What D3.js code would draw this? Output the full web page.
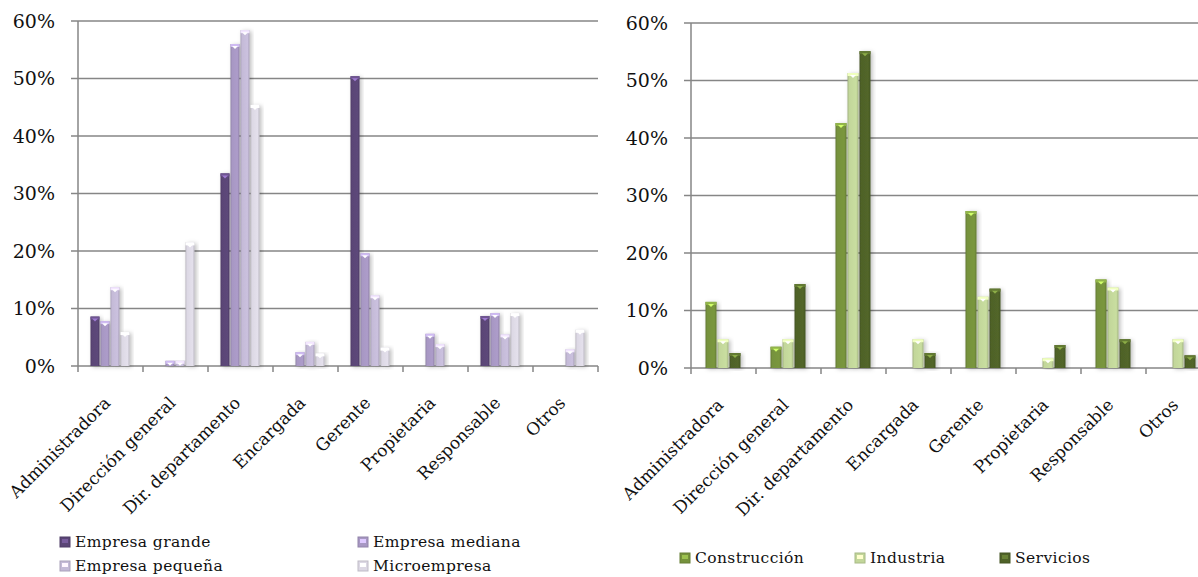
<!DOCTYPE html>
<html>
<head>
<meta charset="utf-8">
<script src="https://cdn.jsdelivr.net/npm/d3@7"></script>
<style>
  body { margin: 0; background: #fff; }
  svg { display: block; }
  svg text { font-family: "DejaVu Serif", serif; fill: #111; }
</style>
</head>
<body>
<svg id="chart" width="1198" height="577"></svg>
<script>
const categories = ['Administradora', 'Dirección general', 'Dir. departamento', 'Encargada',
  'Gerente', 'Propietaria', 'Responsable', 'Otros'];
const yTicks = [0, 0.1, 0.2, 0.3, 0.4, 0.5, 0.6];

// left chart: by company size
const sizeSeries = ['Empresa grande', 'Empresa mediana', 'Empresa pequeña', 'Microempresa'];
const sizeColors = ['#5a4576', '#a797c3', '#c4bad7', '#dcd8e4'];
const empresaGrande = [0.086, 0, 0.335, 0, 0.504, 0, 0.087, 0];
const empresaMediana = [0.078, 0.009, 0.560, 0.024, 0.196, 0.056, 0.092, 0];
const empresaPequena = [0.137, 0.009, 0.584, 0.042, 0.123, 0.038, 0.055, 0.029];
const microempresa = [0.059, 0.215, 0.454, 0.022, 0.032, 0, 0.092, 0.063];

// right chart: by sector
const sectorSeries = ['Construcción', 'Industria', 'Servicios'];
const sectorColors = ['#76923c', '#c2d69a', '#4f6228'];
const construccion = [0.115, 0.037, 0.426, 0, 0.273, 0, 0.154, 0];
const industria = [0.050, 0.050, 0.513, 0.050, 0.124, 0.017, 0.140, 0.050];
const servicios = [0.026, 0.146, 0.551, 0.026, 0.138, 0.040, 0.050, 0.022];

const svg = d3.select('#chart');
const defs = svg.append('defs');
defs.append('filter')
  .attr('id', 'shadow')
  .attr('x', '-50%').attr('y', '-10%').attr('width', '200%').attr('height', '130%')
  .append('feDropShadow')
  .attr('dx', 2).attr('dy', 1).attr('stdDeviation', 2)
  .attr('flood-color', '#000').attr('flood-opacity', 0.25);

function makeGradient(id, color) {
  const c = d3.color(color);
  const g = defs.append('linearGradient').attr('id', id)
    .attr('x1', 0).attr('x2', 1).attr('y1', 0).attr('y2', 0);
  g.append('stop').attr('offset', '0%').attr('stop-color', c.darker(0.6));
  g.append('stop').attr('offset', '15%').attr('stop-color', c);
  g.append('stop').attr('offset', '80%').attr('stop-color', c.brighter(0.1));
  g.append('stop').attr('offset', '100%').attr('stop-color', c.darker(0.5));
}

function drawChart(opts) {
  const { x0, x1, yTop, yBottom, series, colors, values, groupPad, prefix } = opts;
  const g = svg.append('g');
  const x = d3.scaleBand().domain(categories).range([x0, x1]);
  const y = d3.scaleLinear().domain([0, 0.6]).range([yBottom, yTop]);
  const inner = d3.scaleBand().domain(series).range([groupPad, x.bandwidth() - groupPad]);

  // grid lines
  g.append('g')
    .selectAll('line')
    .data(yTicks)
    .enter()
    .append('line')
    .attr('x1', x0 - 7)
    .attr('x2', Math.min(x1, 1198))
    .attr('y1', d => y(d))
    .attr('y2', d => y(d))
    .attr('stroke', '#868686')
    .attr('stroke-width', 1.5);

  // y axis line
  g.append('line')
    .attr('x1', x0).attr('x2', x0)
    .attr('y1', yTop).attr('y2', yBottom + 6)
    .attr('stroke', '#868686').attr('stroke-width', 1.5);

  // category ticks
  g.append('g')
    .selectAll('line')
    .data(categories.slice(1).concat(['_end']))
    .enter()
    .append('line')
    .attr('x1', (d, i) => x0 + (i + 1) * x.bandwidth())
    .attr('x2', (d, i) => x0 + (i + 1) * x.bandwidth())
    .attr('y1', yBottom)
    .attr('y2', yBottom + 6)
    .attr('stroke', '#868686')
    .attr('stroke-width', 1.5);

  // y tick labels
  g.append('g')
    .selectAll('text')
    .data(yTicks)
    .enter()
    .append('text')
    .attr('x', x0 - 23)
    .attr('y', d => y(d))
    .attr('dy', '0.35em')
    .attr('text-anchor', 'end')
    .style('font-size', '19px')
    .text(d3.format('.0%'));

  series.forEach((s, si) => makeGradient(`${prefix}${si}`, colors[si]));

  // bars
  series.forEach((s, si) => {
    const c = d3.color(colors[si]);
    const barG = g.append('g')
      .selectAll('g')
      .data(values[si].map((v, i) => ({ v, cat: categories[i] })).filter(d => d.v > 0))
      .enter()
      .append('g')
      .attr('transform', d => `translate(${x(d.cat) + inner(s)},0)`);
    barG.append('rect')
      .attr('y', d => y(d.v))
      .attr('width', inner.bandwidth() - 1)
      .attr('height', d => yBottom - y(d.v))
      .attr('fill', `url(#${prefix}${si})`)
      .attr('filter', 'url(#shadow)');
    barG.append('rect')
      .attr('y', d => y(d.v))
      .attr('width', inner.bandwidth() - 1)
      .attr('height', 3)
      .attr('fill', c.brighter(0.6));
    barG.append('path')
      .attr('d', d => {
        const w = inner.bandwidth() - 1;
        const t = y(d.v) + 2;
        return `M${w / 2 - 3},${t}L${w / 2 + 3},${t}L${w / 2},${t + 3}Z`;
      })
      .attr('fill', c.brighter(1.6));
  });

  // category labels
  g.append('g')
    .selectAll('text')
    .data(categories)
    .enter()
    .append('text')
    .attr('transform', d => `translate(${x(d) + x.bandwidth() / 2 + 1},${yBottom + 38}) rotate(-45)`)
    .attr('text-anchor', 'end')
    .style('font-size', '17px')
    .text(d => d);

  return g;
}

drawChart({
  x0: 78, x1: 598, yTop: 21, yBottom: 366,
  series: sizeSeries, colors: sizeColors,
  values: [empresaGrande, empresaMediana, empresaPequena, microempresa],
  groupPad: 12.5, prefix: 'gs'
});

drawChart({
  x0: 691, x1: 1211, yTop: 23, yBottom: 368,
  series: sectorSeries, colors: sectorColors,
  values: [construccion, industria, servicios],
  groupPad: 14.5, prefix: 'gc'
});

function legendItem(xPos, yPos, color, label) {
  const c = d3.color(color);
  const lg = svg.append('g').attr('transform', `translate(${xPos},${yPos})`);
  lg.append('rect')
    .attr('x', 0).attr('y', -5).attr('width', 10).attr('height', 10)
    .attr('fill', c)
    .attr('stroke', c.darker(0.4));
  lg.append('rect')
    .attr('x', 2).attr('y', -3).attr('width', 6).attr('height', 4)
    .attr('fill', c.brighter(0.8));
  lg.append('text')
    .attr('x', 15)
    .attr('dy', '0.35em')
    .style('font-size', '15.5px')
    .style('letter-spacing', '0.4px')
    .text(label);
}

legendItem(60, 542, sizeColors[0], sizeSeries[0]);
legendItem(358, 542, sizeColors[1], sizeSeries[1]);
legendItem(60, 566, sizeColors[2], sizeSeries[2]);
legendItem(358, 566, sizeColors[3], sizeSeries[3]);

legendItem(680, 558, sectorColors[0], sectorSeries[0]);
legendItem(855, 558, sectorColors[1], sectorSeries[1]);
legendItem(1000, 558, sectorColors[2], sectorSeries[2]);
</script>
</body>
</html>
